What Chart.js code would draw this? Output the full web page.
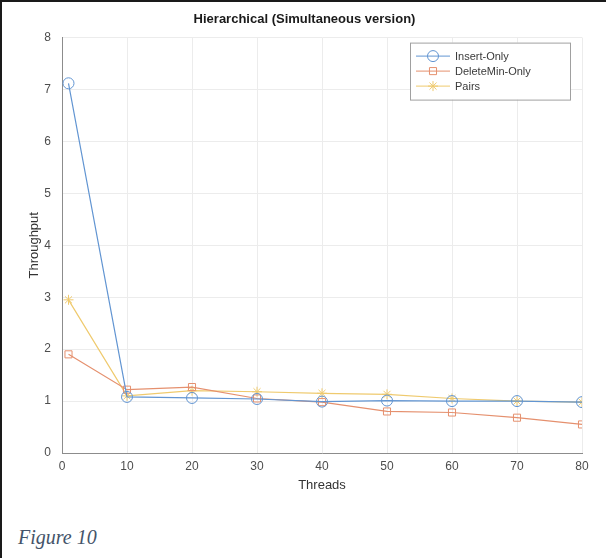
<!DOCTYPE html>
<html>
<head>
<meta charset="utf-8">
<script src="https://cdn.jsdelivr.net/npm/chart.js"></script>
<style>
    html, body { margin: 0; padding: 0; background: #fff; }
    #frame {
        position: relative;
        width: 606px;
        height: 558px;
        box-sizing: border-box;
        border-left: 2px solid #1a1a1a;
        border-top: 2px solid #1a1a1a;
        overflow: hidden;
    }
    #chartWrap { position: absolute; left: -2px; top: -2px; width: 606px; height: 493px; }
    #caption {
        position: absolute;
        left: 16px;
        top: 524px;
        font-family: "Liberation Serif", "DejaVu Serif", serif;
        font-style: italic;
        font-size: 20px;
        color: #44546a;
    }
</style>
</head>
<body>
<div id="frame">
    <div id="chartWrap"><canvas id="chartThroughput"></canvas></div>
    <div id="caption">Figure 10</div>
</div>
<script>
// Data
const threads = [1, 10, 20, 30, 40, 50, 60, 70, 80];
const insertOnly = [7.12, 1.08, 1.06, 1.04, 0.99, 1.01, 1.0, 1.0, 0.98];
const deleteMinOnly = [1.9, 1.22, 1.27, 1.05, 0.98, 0.8, 0.78, 0.68, 0.55];
const pairs = [2.95, 1.1, 1.2, 1.18, 1.15, 1.13, 1.05, 1.0, 0.98];
const xTicks = [0, 10, 20, 30, 40, 50, 60, 70, 80];
const yTicks = [0, 1, 2, 3, 4, 5, 6, 7, 8];
const seriesNames = ['Insert-Only', 'DeleteMin-Only', 'Pairs'];

const toPoints = (vals) => vals.map((v, i) => ({ x: threads[i], y: v }));

// Legend box drawn inside the plot (top right), MATLAB style
const legendBox = {
    id: 'legendBox',
    afterDraw(chart, args, opts) {
        const ctx = chart.ctx;
        const area = chart.chartArea;
        const x = area.right - opts.right - opts.width;
        const y = area.top + opts.top;
        const h = opts.rowHeight * chart.data.datasets.length + opts.padY * 2;
        ctx.save();
        ctx.fillStyle = '#fff';
        ctx.fillRect(x, y, opts.width, h);
        ctx.strokeStyle = '#a0a0a0';
        ctx.lineWidth = 1;
        ctx.strokeRect(x + 0.5, y + 0.5, opts.width, h);
        ctx.font = '11px "Liberation Sans", Arial, sans-serif';
        ctx.textBaseline = 'middle';
        chart.data.datasets.forEach((ds, i) => {
            const cy = y + opts.padY + opts.rowHeight * (i + 0.5);
            const x0 = x + 6, x1 = x + 40;
            ctx.strokeStyle = ds.borderColor;
            ctx.lineWidth = 1;
            ctx.beginPath();
            ctx.moveTo(x0, cy);
            ctx.lineTo(x1, cy);
            ctx.stroke();
            ctx.fillStyle = 'rgba(0,0,0,0)';
            Chart.helpers.drawPoint(ctx, {
                pointStyle: ds.pointStyle,
                rotation: 0,
                radius: ds.pointRadius,
                borderWidth: 1
            }, (x0 + x1) / 2, cy);
            ctx.fillStyle = '#3a3a3a';
            ctx.fillText(ds.label, x1 + 5, cy + 0.5);
        });
        ctx.restore();
    }
};

const ctx = document.getElementById('chartThroughput');
new Chart(ctx, {
    type: 'line',
    data: {
        datasets: [
            {
                label: seriesNames[0],
                data: toPoints(insertOnly),
                borderColor: '#6295d2',
                backgroundColor: 'rgba(0,0,0,0)',
                pointStyle: 'circle',
                pointRadius: 5.5,
                pointBorderWidth: 1,
                borderWidth: 1.2
            },
            {
                label: seriesNames[1],
                data: toPoints(deleteMinOnly),
                borderColor: '#e5906e',
                backgroundColor: 'rgba(0,0,0,0)',
                pointStyle: 'rect',
                pointRadius: 5,
                pointBorderWidth: 1,
                borderWidth: 1.2
            },
            {
                label: seriesNames[2],
                data: toPoints(pairs),
                borderColor: '#efca6e',
                backgroundColor: 'rgba(0,0,0,0)',
                pointStyle: 'star',
                pointRadius: 5,
                pointBorderWidth: 1,
                borderWidth: 1.2
            }
        ]
    },
    options: {
        responsive: true,
        maintainAspectRatio: false,
        animation: false,
        layout: { padding: { left: 27, right: 24, top: 0, bottom: 0 } },
        plugins: {
            legend: { display: false },
            tooltip: { enabled: false },
            title: {
                display: true,
                text: 'Hierarchical (Simultaneous version)',
                color: '#1a1a1a',
                font: { family: '"Liberation Sans", Arial, sans-serif', size: 13, weight: 'bold' },
                padding: { top: 12, bottom: 10 }
            },
            legendBox: { right: 12, top: 5, width: 160, rowHeight: 15, padY: 6 }
        },
        scales: {
            x: {
                type: 'linear',
                min: 0,
                max: 80,
                afterBuildTicks: (scale) => { scale.ticks = xTicks.map(v => ({ value: v })); },
                afterFit: (scale) => { scale.height = 40; },
                grid: { color: '#ececec', drawTicks: false },
                border: { color: '#8c8c8c', width: 1 },
                ticks: {
                    color: '#4d4d4d',
                    padding: 6,
                    font: { family: '"Liberation Sans", Arial, sans-serif', size: 12 }
                },
                title: {
                    display: true,
                    text: 'Threads',
                    color: '#333',
                    font: { family: '"Liberation Sans", Arial, sans-serif', size: 13 },
                    padding: { top: 0, bottom: 0 }
                }
            },
            y: {
                type: 'linear',
                min: 0,
                max: 8,
                afterBuildTicks: (scale) => { scale.ticks = yTicks.map(v => ({ value: v })); },
                afterFit: (scale) => { scale.width = 35; },
                grid: { color: '#ececec', drawTicks: false },
                border: { color: '#8c8c8c', width: 1 },
                ticks: {
                    color: '#4d4d4d',
                    padding: 11,
                    font: { family: '"Liberation Sans", Arial, sans-serif', size: 12 }
                },
                title: {
                    display: true,
                    text: 'Throughput',
                    color: '#333',
                    font: { family: '"Liberation Sans", Arial, sans-serif', size: 13 },
                    padding: { top: 0, bottom: 0 }
                }
            }
        }
    },
    plugins: [legendBox]
});
</script>
</body>
</html>
